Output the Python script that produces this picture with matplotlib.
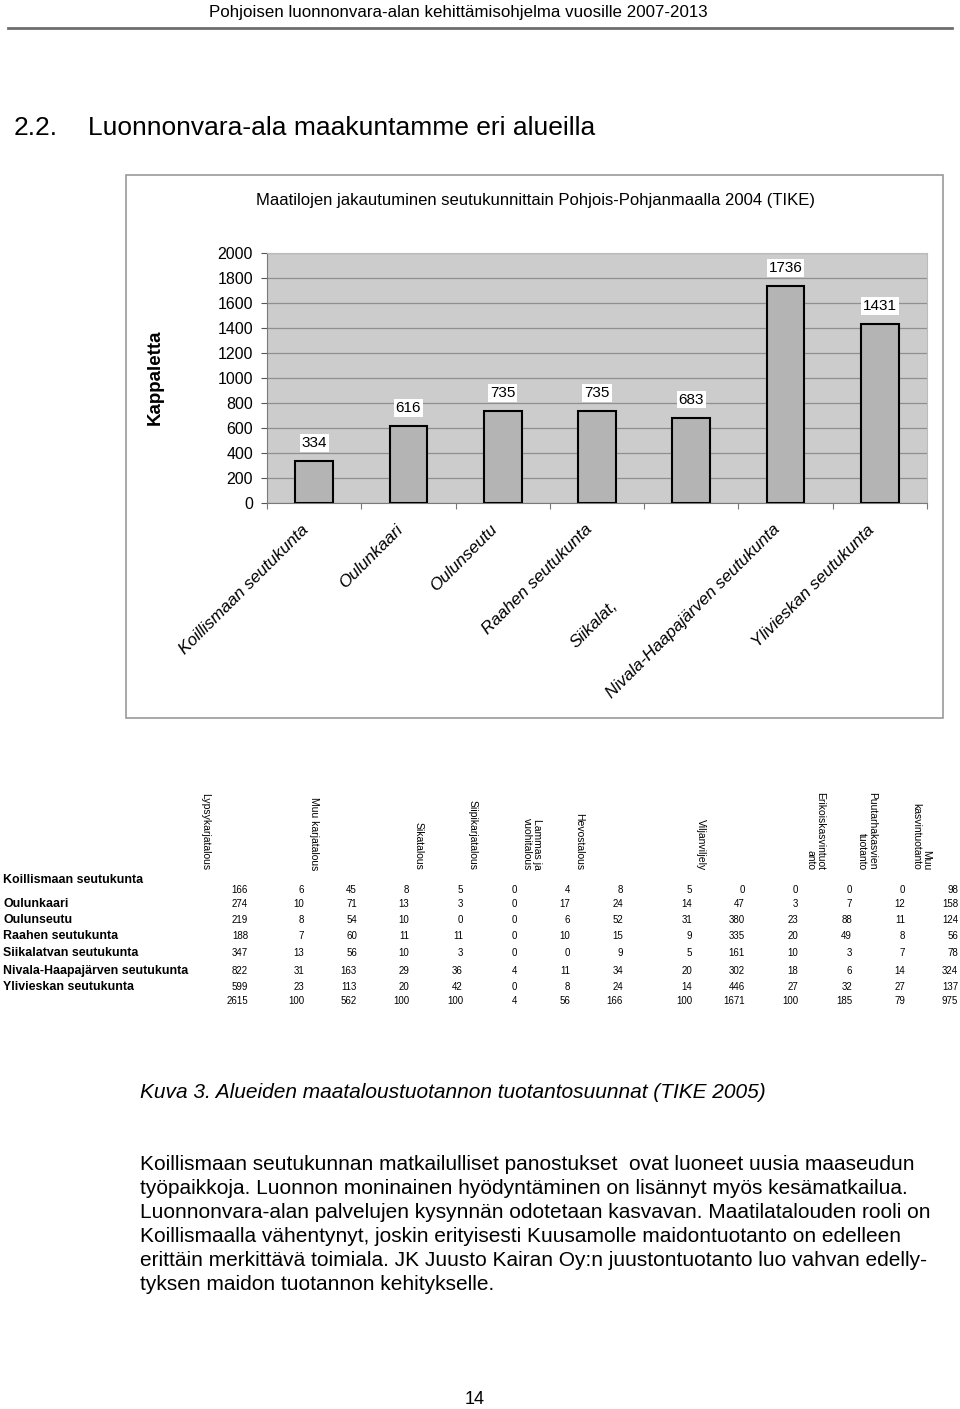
"""
Maatilojen jakautuminen seutukunnittain - page recreation.
"""

import matplotlib
matplotlib.use("Agg")
import matplotlib.pyplot as plt
import matplotlib.transforms as mtransforms
from matplotlib.patches import Rectangle
import numpy as np

plt.rcParams["font.family"] = ["Liberation Sans", "DejaVu Sans"]

# ---- data ---------------------------------------------------------------
regions = [
    "Koillismaan seutukunta",
    "Oulunkaari",
    "Oulunseutu",
    "Raahen seutukunta",
    "Siikalatvan seutukunta",
    "Nivala-Haapajärven seutukunta",
    "Ylivieskan seutukunta",
]
# axis labels as printed (Siikalatvan label is cut short in the source)
axis_labels = [
    "Koillismaan seutukunta",
    "Oulunkaari",
    "Oulunseutu",
    "Raahen seutukunta",
    "Siikalat,",
    "Nivala-Haapajärven seutukunta",
    "Ylivieskan seutukunta",
]
farm_counts = [334, 616, 735, 735, 683, 1736, 1431]
y_ticks = [0, 200, 400, 600, 800, 1000, 1200, 1400, 1600, 1800, 2000]

table_headers = [
    "Lypsykarjatalous",
    "Muu karjatalous",
    "Sikatalous",
    "Siipikarjatalous",
    "Lammas ja\nvuohitalous",
    "Hevostalous",
    "Viljanviljely",
    "Erikoiskasvintuot\nanto",
    "Puutarhakasvien\ntuotanto",
    "Muu\nkasvintuotanto",
]
koillismaa = [166, 6, 45, 8, 5, 0, 4, 8, 5, 0, 0, 0, 0, 98]
oulunkaari = [274, 10, 71, 13, 3, 0, 17, 24, 14, 47, 3, 7, 12, 158]
oulunseutu = [219, 8, 54, 10, 0, 0, 6, 52, 31, 380, 23, 88, 11, 124]
raahe = [188, 7, 60, 11, 11, 0, 10, 15, 9, 335, 20, 49, 8, 56]
siikalatva = [347, 13, 56, 10, 3, 0, 0, 9, 5, 161, 10, 3, 7, 78]
nivala = [822, 31, 163, 29, 36, 4, 11, 34, 20, 302, 18, 6, 14, 324]
ylivieska = [599, 23, 113, 20, 42, 0, 8, 24, 14, 446, 27, 32, 27, 137]
totals = [2615, 100, 562, 100, 100, 4, 56, 166, 100, 1671, 100, 185, 79, 975]

body_lines = [
    "Koillismaan seutukunnan matkailulliset panostukset  ovat luoneet uusia maaseudun",
    "työpaikkoja. Luonnon moninainen hyödyntäminen on lisännyt myös kesämatkailua.",
    "Luonnonvara-alan palvelujen kysynnän odotetaan kasvavan. Maatilatalouden rooli on",
    "Koillismaalla vähentynyt, joskin erityisesti Kuusamolle maidontuotanto on edelleen",
    "erittäin merkittävä toimiala. JK Juusto Kairan Oy:n juustontuotanto luo vahvan edelly-",
    "tyksen maidon tuotannon kehitykselle.",
]

# ---- layout helpers (page in pixels) -------------------------------------
W, H = 960, 1409
fig = plt.figure(figsize=(W / 100, H / 100), dpi=100)


def fx(x):
    return x / W


def fy(y):
    return 1 - y / H


# page header and rule
fig.text(fx(458), fy(13), "Pohjoisen luonnonvara-alan kehittämisohjelma vuosille 2007-2013",
         ha="center", va="center", fontsize=12.2)
fig.add_artist(plt.Line2D([fx(8), fx(952)], [fy(28), fy(28)], color="#6e6e6e", lw=2))

# section heading
fig.text(fx(14), fy(128), "2.2.", ha="left", va="center", fontsize=19)
fig.text(fx(88), fy(128), "Luonnonvara-ala maakuntamme eri alueilla",
         ha="left", va="center", fontsize=19)

# chart frame
fig.add_artist(Rectangle((fx(126), fy(718)), fx(943) - fx(126), fy(175) - fy(718),
                         transform=fig.transFigure, fill=False,
                         edgecolor="#9a9a9a", lw=1.2))
fig.text(fx(535), fy(200),
         "Maatilojen jakautuminen seutukunnittain Pohjois-Pohjanmaalla 2004 (TIKE)",
         ha="center", va="center", fontsize=12)
fig.text(fx(155), fy(377), "Kappaletta", rotation=90, ha="center", va="center",
         fontsize=13.5, fontweight="bold")

# ---- bar chart ------------------------------------------------------------
ax = fig.add_axes([fx(267), fy(503), fx(927) - fx(267), fy(253) - fy(503)])
ax.set_facecolor("#cccccc")
x = np.arange(len(regions))
bars = ax.bar(x, farm_counts, width=0.4, color="#b4b4b4", edgecolor="black",
              linewidth=1.5, zorder=3)
for rect, val in zip(bars, farm_counts):
    ax.annotate(str(val), (rect.get_x() + rect.get_width() / 2, rect.get_height()),
                xytext=(0, 13), textcoords="offset points", ha="center", va="center",
                fontsize=11, zorder=4,
                bbox=dict(boxstyle="square,pad=0.12", fc="white", ec="none"))

ax.set_xlim(-0.5, len(regions) - 0.5)
ax.set_ylim(0, 2000)
ax.set_yticks(y_ticks)
ax.tick_params(axis="y", length=4, width=0.8, pad=6, labelsize=11.5, color="#555555")
ax.grid(axis="y", color="#8f8f8f", lw=0.9, zorder=1)
ax.set_xticks(x)
ax.set_xticklabels([])
ax.set_xticks(np.arange(len(regions) + 1) - 0.5, minor=True)
ax.tick_params(axis="x", which="major", length=0)
ax.tick_params(axis="x", which="minor", length=4, width=0.8, color="#777777")
for side in ["top", "right"]:
    ax.spines[side].set_color("#bbbbbb")
for side in ["left", "bottom"]:
    ax.spines[side].set_color("#7a7a7a")

xa = ax.get_xaxis_transform()
for i, lab in enumerate(axis_labels):
    if lab.startswith("Siikalat"):
        # the clipped label sits lower and further left in the source
        off = mtransforms.ScaledTranslation(-0.81, -0.95, fig.dpi_scale_trans)
    else:
        off = mtransforms.ScaledTranslation(-0.13, -0.19, fig.dpi_scale_trans)
    ax.text(i, 0, lab, transform=xa + off, rotation=45, rotation_mode="anchor",
            ha="right", va="top", fontsize=12.3, style="italic")

# ---- table ----------------------------------------------------------------
header_x = [205, 314, 419, 473, 532, 579, 701, 815, 867, 921]
for hx, head in zip(header_x, table_headers):
    fig.text(fx(hx), fy(870), head, rotation=-90, rotation_mode="anchor",
             ha="right", va="center", multialignment="right", fontsize=7.5,
             linespacing=1.0)

col_right = [248, 304, 357, 409, 463, 517, 570, 623, 692, 745, 798, 852, 905, 958]
rows = [koillismaa, oulunkaari, oulunseutu, raahe, siikalatva, nivala, ylivieska]
label_y = [880, 904, 920, 936, 953, 971, 987]
value_y = [890, 904, 920, 936, 953, 971, 987]
for name, ly, vy, vals in zip(regions, label_y, value_y, rows):
    fig.text(fx(3), fy(ly), name, ha="left", va="center", fontsize=8.9,
             fontweight="bold")
    for cx, v in zip(col_right, vals):
        fig.text(fx(cx), fy(vy), str(v), ha="right", va="center", fontsize=7)
for cx, v in zip(col_right, totals):
    fig.text(fx(cx), fy(1001), str(v), ha="right", va="center", fontsize=7)

# ---- caption and body text ------------------------------------------------
fig.text(fx(140), fy(1093),
         "Kuva 3. Alueiden maataloustuotannon tuotantosuunnat (TIKE 2005)",
         ha="left", va="center", fontsize=15, style="italic")
for k, line in enumerate(body_lines):
    fig.text(fx(140), fy(1165 + 24 * k), line, ha="left", va="center", fontsize=15)

fig.text(fx(475), fy(1399), "14", ha="center", va="center", fontsize=13)

fig.savefig("out.png", dpi=100, facecolor="white")
